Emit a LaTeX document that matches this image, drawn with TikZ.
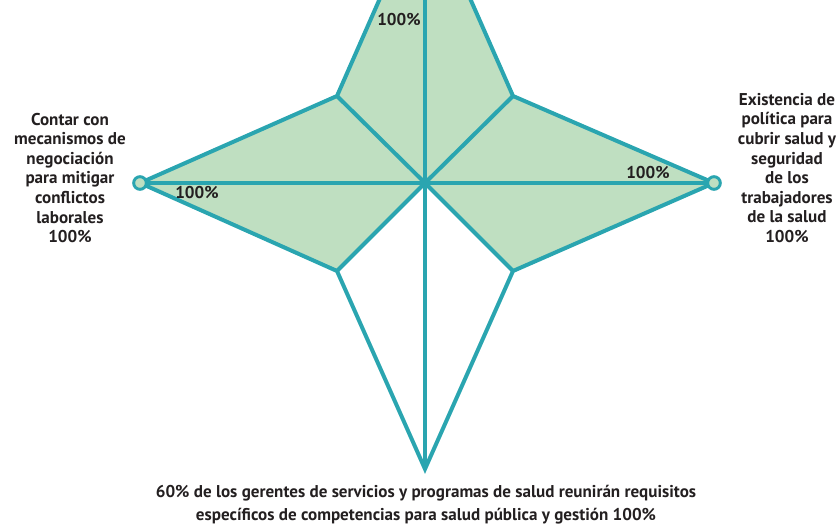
\documentclass[tikz,border=0pt]{standalone}
\usepackage{fontspec}
\setmainfont{PT Sans}
\usepackage{xcolor}
\usetikzlibrary{positioning}

\definecolor{radarline}{RGB}{42,165,176}
\definecolor{radarfill}{RGB}{191,223,193}
\definecolor{labelgray}{RGB}{35,31,32}

\tikzset{
  spoke/.style={draw=radarline, line width=3pt, line join=miter},
  axislabel/.style={inner sep=0.75pt, align=center, text=labelgray,
    font=\bfseries\fontsize{12.8}{14.7}\selectfont},
  footlabel/.style={inner sep=0.75pt, align=center, text=labelgray,
    font=\bfseries\fontsize{12.8}{17.2}\selectfont},
  valuelabel/.style={inner sep=0.75pt, text=labelgray,
    font=\bfseries\fontsize{12.8}{14}\selectfont},
  dotmark/.style={circle, draw=radarline, fill=radarfill, line width=2.2pt,
    inner sep=0pt, minimum size=9.5pt},
}

\begin{document}
\begin{tikzpicture}[x=0.75pt,y=0.75pt,yscale=-1,xscale=1]
   \useasboundingbox (0,0) rectangle (840,524);
   \clip (0,0) rectangle (840,524);

   % axis ends and inner corners of the star
   \coordinate (C) at (425,183);
   \coordinate (T) at (425,-104);
   \coordinate (R) at (714,183);
   \coordinate (B) at (425,469);
   \coordinate (L) at (140,183);
   \coordinate (TR) at (513,96);
   \coordinate (BR) at (513,271);
   \coordinate (BL) at (337,271);
   \coordinate (TL) at (337,96);

   %Shape: data area
   \fill [radarfill] (T) -- (TR) -- (R) -- (BR) -- (C) -- (BL) -- (L) -- (TL) -- cycle ;
   %Shape: star outline
   \draw [spoke] (T) -- (TR) -- (R) -- (BR) -- (B) -- (BL) -- (L) -- (TL) -- cycle ;
   %Straight Lines: spokes
   \foreach \v in {T,TR,R,BR,B,BL,L,TL}
     \draw [spoke] (C) -- (\v) ;

   %Shape: markers
   \node [dotmark] (dotL) at (L) {};
   \node [dotmark] (dotR) at (R) {};

   % Text Node
   \node [valuelabel] (valT) at (399,20) {100\%};
   % Text Node
   \node [valuelabel] (valL) at (197,193) {100\%};
   % Text Node
   \node [valuelabel] (valR) at (648,173) {100\%};

   % Text Node
   \node [axislabel] (axL) at (70,178) {Contar con\\mecanismos de\\negociación\\para mitigar\\conflictos\\laborales\\100\%};
   % Text Node
   \node [axislabel] (axR) at (787,168) {Existencia de\\política para\\cubrir salud y\\seguridad\\de los\\trabajadores\\de la salud\\100\%};
   % Text Node
   \node [footlabel] (axB) at (426,505) {60\% de los gerentes de servicios y programas de salud reunirán requisitos\\específicos de competencias para salud pública y gestión 100\%};

\end{tikzpicture}
\end{document}
